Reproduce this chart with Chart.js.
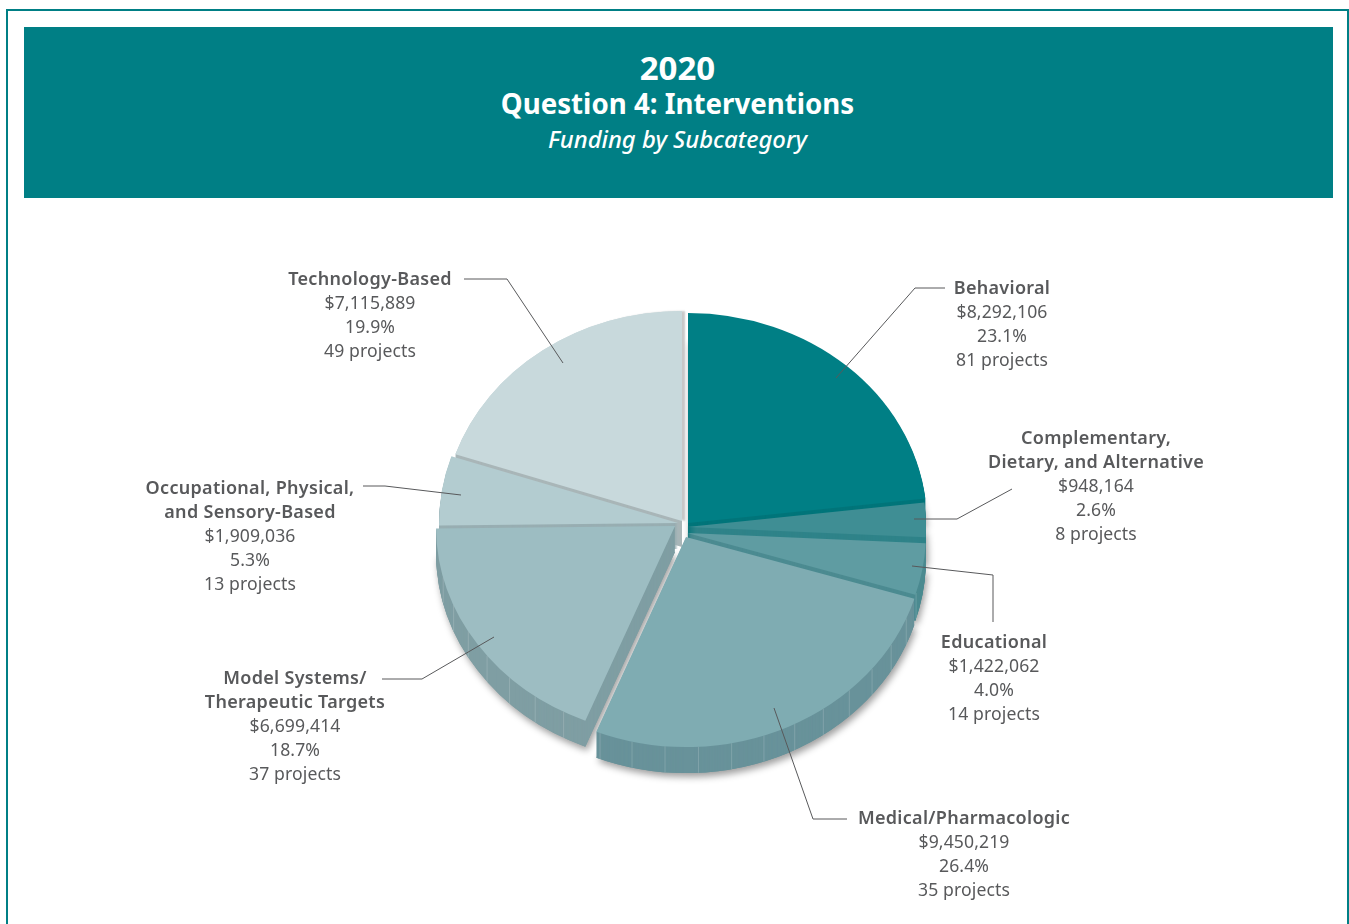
<!DOCTYPE html>
<html>
<head>
<meta charset="utf-8">
<title>2020 Question 4: Interventions</title>
<script src="https://cdn.jsdelivr.net/npm/chart.js@4"></script>
<style>
    html, body { margin: 0; padding: 0; background: #fff; }
    body { position: relative; width: 1349px; height: 924px; overflow: hidden; font-family: "Noto Sans", sans-serif; }
    #frame { position: absolute; left: 6px; top: 9px; width: 1343px; height: 930px; box-sizing: border-box; border: 2px solid #007f85; }
    #header { position: absolute; left: 24px; top: 27px; width: 1309px; height: 171px; background: #007f85; color: #fff; }
    #header div { position: absolute; left: -1px; width: 1309px; text-align: center; white-space: nowrap; }
    #year { top: 21px; font-size: 33px; line-height: 40px; font-weight: 700; }
    #question { top: 56px; font-size: 27.7px; line-height: 40px; font-weight: 700; }
    #sub { top: 92px; font-size: 23.8px; line-height: 40px; font-style: italic; font-weight: 500; }
    canvas { position: absolute; left: 0; top: 0; }
</style>
</head>
<body>
<div id="frame"></div>
<div id="header">
    <div id="year">2020</div>
    <div id="question">Question 4: Interventions</div>
    <div id="sub">Funding by Subcategory</div>
</div>
<canvas id="pieChart" width="1349" height="924"></canvas>

<script>
// The data
const categories = ['Behavioral', 'Complementary, Dietary, and Alternative', 'Educational', 'Medical/Pharmacologic', 'Model Systems/ Therapeutic Targets', 'Occupational, Physical, and Sensory-Based', 'Technology-Based'];
const nameLines = [['Behavioral'], ['Complementary,', 'Dietary, and Alternative'], ['Educational'], ['Medical/Pharmacologic'], ['Model Systems/', 'Therapeutic Targets'], ['Occupational, Physical,', 'and Sensory-Based'], ['Technology-Based']];
const funding = [8292106, 948164, 1422062, 9450219, 6699414, 1909036, 7115889];
const percents = ['23.1%', '2.6%', '4.0%', '26.4%', '18.7%', '5.3%', '19.9%'];
const projects = [81, 8, 14, 35, 37, 13, 49];

// Styles
const topColors = ['#007f85', '#3f8e94', '#5f9ca2', '#7facb2', '#9dbdc2', '#b3ccd0', '#c8d9dc'];
const sideColors = ['#00757a', '#2f8389', '#4c8b91', '#68929a', '#7f9ea3', '#98aeb2', '#a9b6b8'];
const textColor = '#58595b';

// Where each wedge's point sits on the page (every wedge is pulled out by its own amount)
const sliceTips = [[688, 523], [687, 527], [687, 533], [686, 537], [675, 526], [678, 523], [682, 521]];
const pieRadius = 239;
const tilt = 0.8787;
const depth = 26;
const drawOrder = [6, 5, 0, 1, 2, 3, 4];
const frontSlices = [0, 1, 2, 3, 4];

// Label centre x, first line y and the leader line for each category
const labelSpots = [[1002, 289], [1096, 439], [994, 643], [964, 819], [295, 679], [250, 489], [370, 280]];
const leaders = [
    [[945, 288], [915, 288], [836, 378]],
    [[1012, 489], [957, 519], [914, 519]],
    [[993, 622], [993, 575], [912, 566]],
    [[847, 819], [813, 819], [774, 708]],
    [[382, 679], [422, 679], [494, 637]],
    [[363, 486], [385, 486], [461, 495]],
    [[464, 279], [507, 279], [563, 363]]
];

function drawSlice(ctx, arc, i, dy, fill) {
    ctx.save();
    ctx.translate(sliceTips[i][0], sliceTips[i][1] + dy);
    ctx.scale(1, tilt);
    ctx.translate(-arc.x, -arc.y);
    const saved = arc.options;
    arc.options = Object.assign({}, saved, { backgroundColor: fill });
    arc.draw(ctx);
    arc.options = saved;
    ctx.restore();
}

// Light seams down the outside wall of the front wedges
function drawSeams(ctx, arc, i) {
    ctx.save();
    ctx.strokeStyle = 'rgba(255,255,255,0.16)';
    ctx.lineWidth = 1;
    for (let a = arc.startAngle + 0.1; a < arc.endAngle; a += 0.14) {
        if (Math.sin(a) < 0.2) continue;
        const x = sliceTips[i][0] + pieRadius * Math.cos(a);
        const y = sliceTips[i][1] + pieRadius * tilt * Math.sin(a);
        ctx.beginPath();
        ctx.moveTo(x, y);
        ctx.lineTo(x, y + depth);
        ctx.stroke();
    }
    ctx.restore();
}

const pie3d = {
    id: 'pie3d',
    beforeDatasetDraw() {
        return false;
    },
    afterDatasetsDraw(chart) {
        const ctx = chart.ctx;
        const arcs = chart.getDatasetMeta(0).data;

        // soft shadow under the walls, and a thin grey one in the gap at the top
        ctx.save();
        ctx.shadowColor = 'rgba(0,0,0,0.38)';
        ctx.shadowBlur = 7;
        ctx.shadowOffsetX = 2;
        ctx.shadowOffsetY = 4;
        frontSlices.forEach(i => drawSlice(ctx, arcs[i], i, depth, sideColors[i]));
        ctx.shadowColor = 'rgba(0,0,0,0.22)';
        ctx.shadowBlur = 2;
        ctx.shadowOffsetX = 3;
        ctx.shadowOffsetY = 0;
        drawSlice(ctx, arcs[6], 6, 0, topColors[6]);
        ctx.restore();

        // walls
        drawOrder.forEach(i => {
            for (let d = depth; d > 0; d--) {
                drawSlice(ctx, arcs[i], i, d, sideColors[i]);
            }
            drawSeams(ctx, arcs[i], i);
        });

        // top faces
        drawOrder.forEach(i => drawSlice(ctx, arcs[i], i, 0, topColors[i]));

        // leader lines
        ctx.save();
        ctx.strokeStyle = textColor;
        ctx.lineWidth = 1;
        leaders.forEach(points => {
            ctx.beginPath();
            points.forEach((p, n) => n ? ctx.lineTo(p[0], p[1]) : ctx.moveTo(p[0], p[1]));
            ctx.stroke();
        });
        ctx.restore();

        // labels
        ctx.save();
        ctx.fillStyle = textColor;
        ctx.textAlign = 'center';
        ctx.textBaseline = 'middle';
        categories.forEach((c, i) => {
            let y = labelSpots[i][1];
            const x = labelSpots[i][0];
            ctx.letterSpacing = '0.3px';
            ctx.font = '600 18px "Noto Sans"';
            nameLines[i].forEach(line => {
                ctx.fillText(line, x, y);
                y += 24;
            });
            ctx.letterSpacing = '0.1px';
            ctx.font = '400 17.6px "Noto Sans"';
            ['$' + funding[i].toLocaleString('en-US'), percents[i], projects[i] + ' projects'].forEach(line => {
                ctx.fillText(line, x, y);
                y += 24;
            });
        });
        ctx.restore();
    }
};

var ctx = document.getElementById('pieChart').getContext('2d');

var chart = new Chart(ctx, {
    type: 'pie',
    data: {
        labels: categories,
        datasets: [{
            data: funding,
            backgroundColor: topColors,
            borderWidth: 0
        }]
    },
    options: {
        responsive: false,
        animation: false,
        events: [],
        radius: pieRadius,
        plugins: {
            legend: { display: false },
            tooltip: { enabled: false }
        }
    },
    plugins: [pie3d]
});
</script>
</body>
</html>
